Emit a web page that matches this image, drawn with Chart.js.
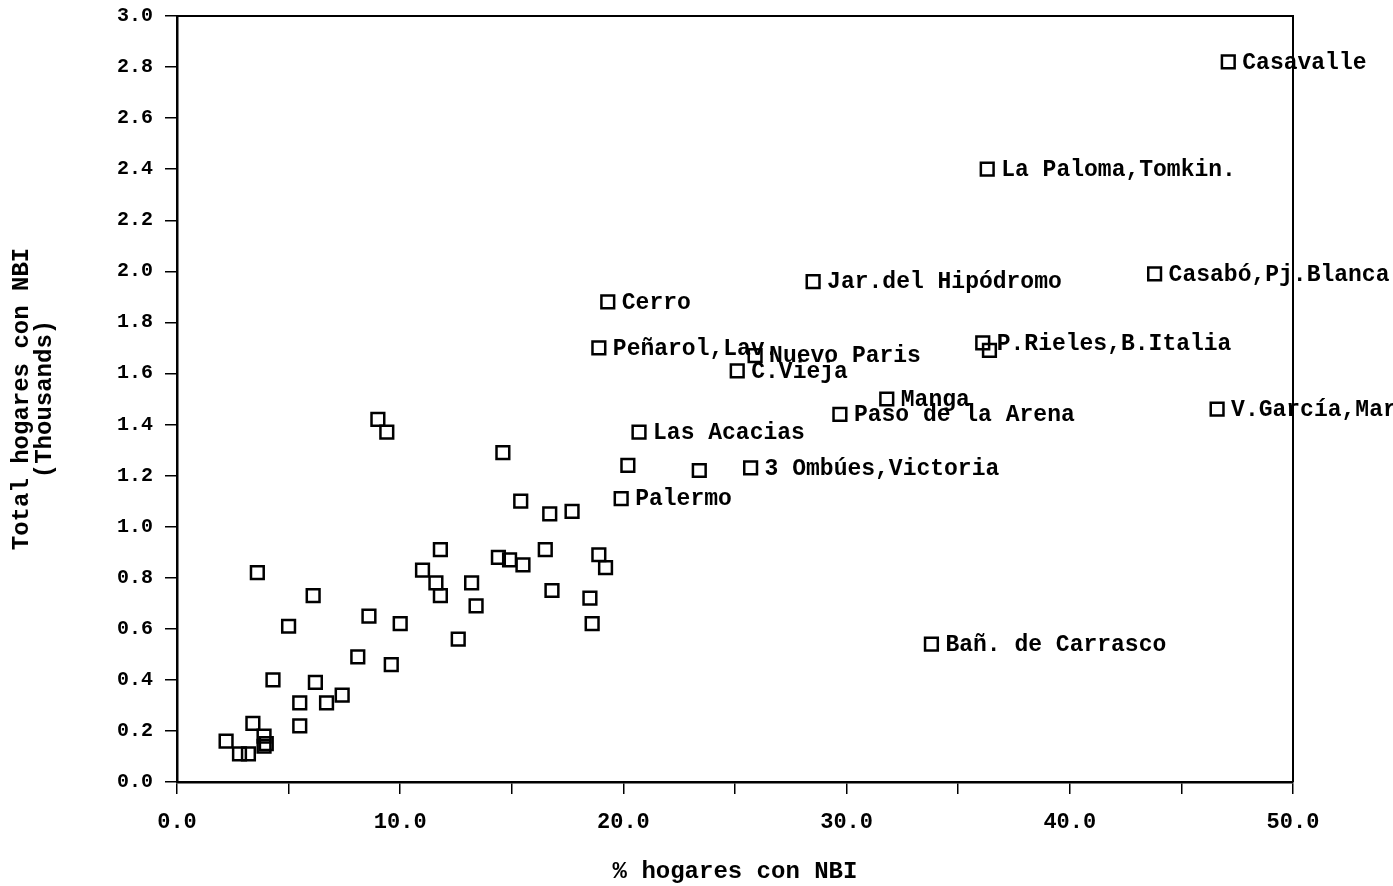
<!DOCTYPE html>
<html>
<head>
<meta charset="utf-8">
<script src="https://cdn.jsdelivr.net/npm/chart.js@4.4.1/dist/chart.umd.min.js"></script>
<style>
  html, body { margin: 0; padding: 0; background: #ffffff; }
  #wrap { width: 1393px; height: 886px; position: relative; }
</style>
</head>
<body>
<div id="wrap"><canvas id="c" width="1393" height="886"></canvas></div>
<script>
// ---- data ----
const pctNBI = [
  47.1, 36.3, 43.8, 28.5, 19.3, 36.1, 36.4, 18.9, 25.9, 25.1,
  31.8, 29.7, 46.6, 20.7, 25.7, 19.9, 33.8,
  20.2, 23.4, 9.0, 9.4, 14.6, 15.4, 16.7, 17.7, 11.8, 16.5,
  14.4, 14.9, 15.5, 18.9, 19.2, 3.6, 11.0, 11.6, 13.2, 11.8,
  16.8, 18.5, 6.1, 13.4, 8.6, 10.0, 5.0, 18.6, 12.6, 8.1,
  9.6, 4.3, 6.2, 7.4, 6.7, 5.5, 5.5, 3.4, 3.9, 4.0, 3.9,
  2.2, 2.8, 3.2
];
const totalNBI = [
  2.82, 2.40, 1.99, 1.96, 1.88, 1.72, 1.69, 1.70, 1.67, 1.61,
  1.50, 1.44, 1.46, 1.37, 1.23, 1.11, 0.54,
  1.24, 1.22, 1.42, 1.37, 1.29, 1.10, 1.05, 1.06, 0.91, 0.91,
  0.88, 0.87, 0.85, 0.89, 0.84, 0.82, 0.83, 0.78, 0.78, 0.73,
  0.75, 0.72, 0.73, 0.69, 0.65, 0.62, 0.61, 0.62, 0.56, 0.49,
  0.46, 0.40, 0.39, 0.34, 0.31, 0.31, 0.22, 0.23, 0.18, 0.15, 0.14,
  0.16, 0.11, 0.11
];
const zoneNames = [
  'Casavalle', 'La Paloma,Tomkin.', 'Casabó,Pj.Blanca', 'Jar.del Hipódromo', 'Cerro',
  'P.Rieles,B.Italia', '', 'Peñarol,Lav.', 'Nuevo Paris', 'C.Vieja',
  'Manga', 'Paso de la Arena', 'V.García,Maroñas', 'Las Acacias', '3 Ombúes,Victoria',
  'Palermo', 'Bañ. de Carrasco'
];
const yTicks = [0.0, 0.2, 0.4, 0.6, 0.8, 1.0, 1.2, 1.4, 1.6, 1.8, 2.0, 2.2, 2.4, 2.6, 2.8, 3.0];
const xTickLabels = [0, 10, 20, 30, 40, 50];
const xTitle = '% hogares con NBI';
const yTitle = ['Total hogares con NBI', '(Thousands)'];

const FONT = "'Liberation Mono', 'DejaVu Sans Mono', monospace";

const points = pctNBI.map((x, i) => ({ x: x, y: totalNBI[i] }));

const labelPlugin = {
  id: 'pointLabels',
  afterDatasetsDraw(chart) {
    const ctx = chart.ctx;
    const meta = chart.getDatasetMeta(0);
    ctx.save();
    ctx.font = "bold 23px " + FONT;
    ctx.fillStyle = '#000';
    ctx.textBaseline = 'middle';
    ctx.textAlign = 'left';
    meta.data.forEach((el, i) => {
      const name = zoneNames[i];
      if (name) ctx.fillText(name, el.x + 14, el.y + 1);
    });
    ctx.restore();
  }
};

const framePlugin = {
  id: 'frame',
  afterDraw(chart) {
    const a = chart.chartArea;
    const ctx = chart.ctx;
    ctx.save();
    ctx.strokeStyle = '#000';
    ctx.lineWidth = 2;
    ctx.beginPath();
    ctx.moveTo(a.left, a.top);
    ctx.lineTo(a.right, a.top);
    ctx.lineTo(a.right, a.bottom);
    ctx.stroke();
    ctx.restore();
  }
};

new Chart(document.getElementById('c'), {
  type: 'scatter',
  data: {
    datasets: [{
      data: points,
      pointStyle: 'rect',
      radius: 9,
      hoverRadius: 9,
      borderColor: '#000',
      backgroundColor: 'rgba(255,255,255,0)',
      borderWidth: 2.5
    }]
  },
  plugins: [labelPlugin, framePlugin],
  options: {
    responsive: false,
    animation: false,
    events: [],
    layout: { padding: { top: 16, right: 100, left: 0, bottom: 0 } },
    plugins: { legend: { display: false }, tooltip: { enabled: false }, title: { display: false } },
    scales: {
      x: {
        type: 'linear',
        min: 0, max: 50,
        afterFit(scale) { scale.height = 104; scale.paddingLeft = 0; scale.paddingRight = 0; },
        afterBuildTicks(scale) {
          const t = [];
          for (let v = 0; v <= 50; v += 5) t.push({ value: v });
          scale.ticks = t;
        },
        ticks: {
          color: '#000',
          font: { family: FONT, size: 22, weight: 'bold' },
          padding: 15,
          maxRotation: 0,
          autoSkip: false,
          callback(v) { return xTickLabels.includes(v) ? v.toFixed(1) : ''; }
        },
        grid: { drawOnChartArea: false, drawTicks: true, tickLength: 12, color: '#000', lineWidth: 1.5 },
        border: { display: true, color: '#000', width: 2.5 },
        title: {
          display: true, text: xTitle, color: '#000',
          font: { family: FONT, size: 24, weight: 'bold' },
          padding: { top: 0, bottom: 0 }
        }
      },
      y: {
        type: 'linear',
        min: 0, max: 3,
        afterFit(scale) { scale.width = 177; scale.paddingTop = 0; scale.paddingBottom = 0; },
        afterBuildTicks(scale) { scale.ticks = yTicks.map(v => ({ value: v })); },
        ticks: {
          color: '#000',
          font: { family: FONT, size: 20, weight: 'bold' },
          padding: 12,
          autoSkip: false,
          callback(v) { return v.toFixed(1); }
        },
        grid: { drawOnChartArea: false, drawTicks: true, tickLength: 12, color: '#000', lineWidth: 1.5 },
        border: { display: true, color: '#000', width: 2.5 },
        title: {
          display: true, text: yTitle, color: '#000',
          font: { family: FONT, size: 24, weight: 'bold', lineHeight: 0.97 },
          padding: { top: 10, bottom: 0 }
        }
      }
    }
  }
});
</script>
</body>
</html>
